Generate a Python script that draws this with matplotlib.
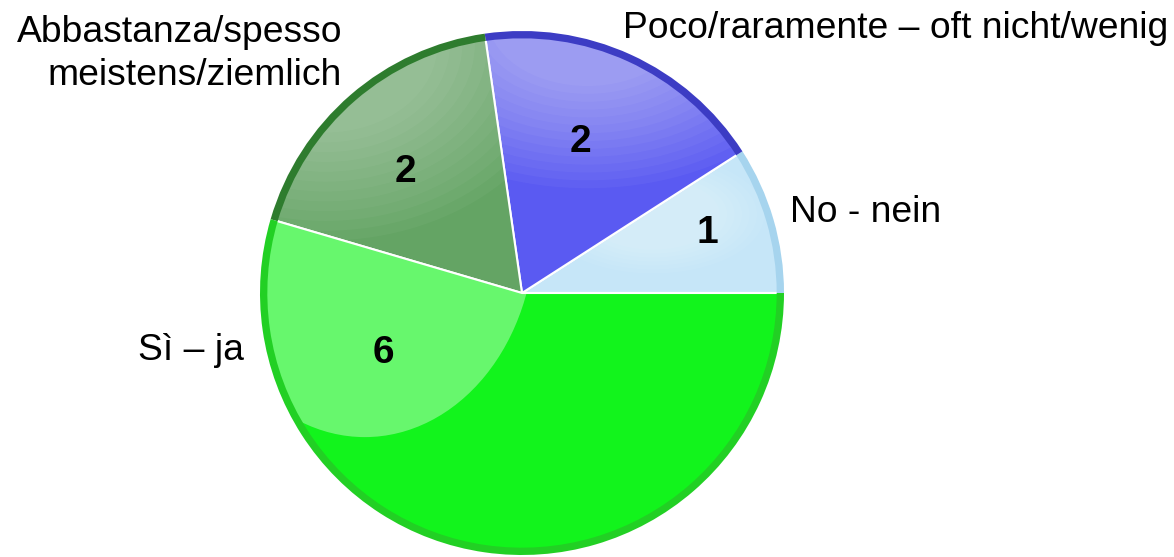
import matplotlib
matplotlib.use("Agg")
import matplotlib.pyplot as plt
from matplotlib.patches import Ellipse

# ---- data ----
categories = ["No - nein", "Poco/raramente – oft nicht/wenig",
              "Abbastanza/spesso\nmeistens/ziemlich", "Sì – ja"]
values = [1, 2, 2, 6]
colors = ["#c6e6f8", "#5a5af2", "#64a464", "#12f41c"]
rim_colors = ["#a6d4ee", "#3c3cc4", "#2e7c2e", "#22d024"]

W, H = 1174, 557
CX, CY, R = 522, 293, 262  # pixel centre / radius of pie

fig = plt.figure(figsize=(W / 100, H / 100), dpi=100)
ax = fig.add_axes([0, 0, 1, 1])

def px(x, y):
    return (x - CX) / R, (CY - y) / R

wedges, _, autotexts = ax.pie(
    values, colors=colors, startangle=0, counterclock=True, radius=1.0,
    autopct=lambda p: f"{round(p * sum(values) / 100):d}", pctdistance=0.64,
    wedgeprops=dict(edgecolor="none", linewidth=0),
    textprops=dict(fontsize=28, fontweight="bold", family="Liberation Sans",
                   color="black"))

# darker rim
rims, _ = ax.pie(values, colors=rim_colors, startangle=0, counterclock=True,
                 radius=1.0, wedgeprops=dict(width=0.028, edgecolor="none"))

def glow(center, w, h, alpha, clipper, steps=1, shrink=0.0, angle=0):
    for i in range(steps):
        f = 1 - shrink * i / max(steps - 1, 1)
        e = Ellipse(center, w * f, h * f, angle=angle, facecolor="white",
                    alpha=alpha, edgecolor="none", zorder=3)
        ax.add_patch(e)
        e.set_clip_path(clipper)

# glossy highlight on the big slice (sharp edge)
glow((-0.6, 0.25), 1.3, 1.6, 0.36, wedges[3])
# soft highlights on the others
glow((0.25, 1.05), 1.9, 1.3, 0.04, wedges[1], steps=14, shrink=0.6)
glow((-0.75, 0.95), 1.9, 1.5, 0.035, wedges[2], steps=12, shrink=0.55)
glow((0.5, 0.3), 0.85, 0.45, 0.05, wedges[0], steps=7, shrink=0.4)

# white separators
for w_ in wedges:
    w_.set_edgecolor("white")
    w_.set_linewidth(1.5)
for r_ in rims:
    r_.set_zorder(4)

for t in autotexts:
    t.set_zorder(6)
# value labels sit where the reference places them
label_px = [(707, 233), (580, 142), (405, 172), (383, 353)]
for t, (x, y) in zip(autotexts, label_px):
    t.set_position(px(x, y))

lab_kw = dict(fontsize=26.8, family="Liberation Sans", color="black", zorder=6)
ax.text(*px(790, 212), categories[0], ha="left", va="center", **lab_kw)
ax.text(*px(623, 29), categories[1], ha="left", va="center", **lab_kw)
ax.text(*px(342, 54), categories[2], ha="right", va="center",
        linespacing=1.3, multialignment="right", **lab_kw)
ax.text(*px(244, 350), categories[3], ha="right", va="center", **lab_kw)

ax.set_xlim(-CX / R, (W - CX) / R)
ax.set_ylim((CY - H) / R, CY / R)
ax.set_aspect("auto")
ax.axis("off")

fig.savefig("out.png", dpi=100)
